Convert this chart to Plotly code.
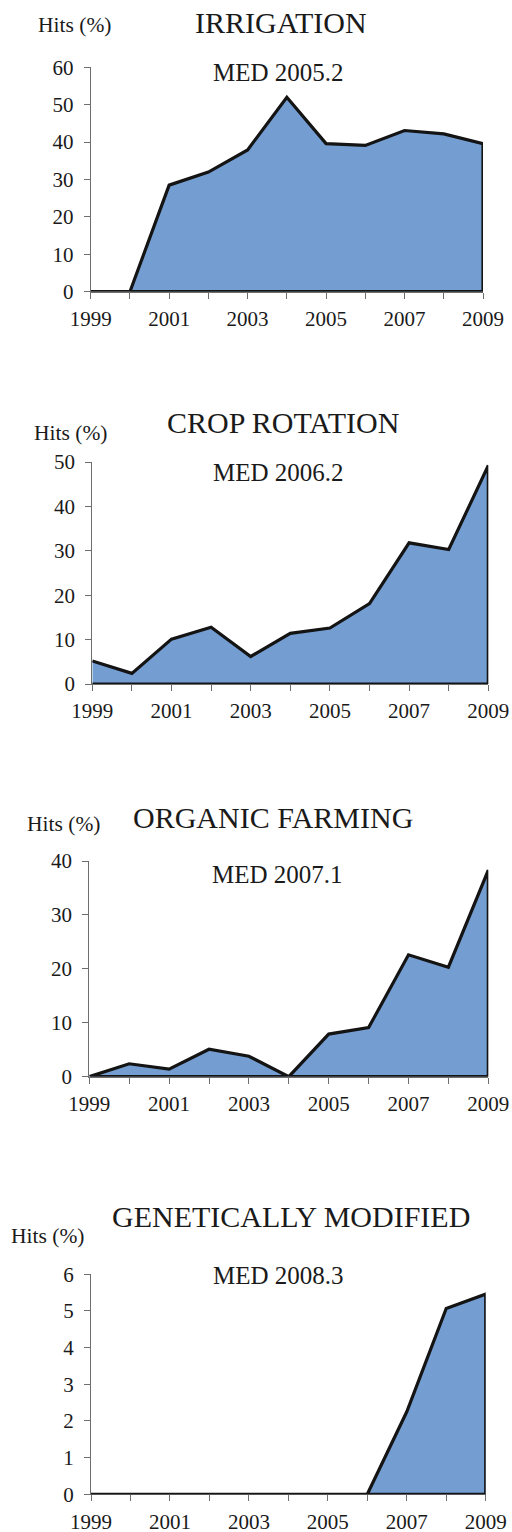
import plotly.graph_objects as go

W, H = 512, 1532

years = list(range(1999, 2010))
tick_labels = [str(y) if y % 2 == 1 else "" for y in years]

titles = ["IRRIGATION", "CROP ROTATION", "ORGANIC FARMING", "GENETICALLY MODIFIED"]
medians = ["MED 2005.2", "MED 2006.2", "MED 2007.1", "MED 2008.3"]

irrigation = [0, 0, 28.5, 32.0, 37.9, 52.0, 39.6, 39.1, 43.1, 42.2, 39.6]
crop_rotation = [5.2, 2.4, 10.1, 12.8, 6.2, 11.4, 12.6, 18.1, 31.8, 30.3, 49.2]
organic_farming = [0, 2.4, 1.4, 5.1, 3.8, 0, 7.9, 9.1, 22.6, 20.3, 38.3]
genetically_modified = [0, 0, 0, 0, 0, 0, 0, 0, 2.25, 5.07, 5.46]

series = [irrigation, crop_rotation, organic_farming, genetically_modified]
y_max = [60, 50, 40, 6]
y_dtick = [10, 10, 10, 1]

# layout geometry (reference pixels)
x_px = [(90.7, 483.0), (92.3, 488.3), (89.3, 488.3), (91.0, 485.7)]
y_px = [(67.3, 291.7), (462.0, 684.0), (861.0, 1076.7), (1274.3, 1494.3)]
title_pos = [(281, 22.7), (283, 422.5), (272.5, 818), (291, 1216.7)]
hits_pos = [(74.5, 25), (70.5, 432.5), (63.5, 824), (47.5, 1236)]
med_pos = [(278, 72), (278, 472.5), (277.5, 874), (278, 1275)]


def px(x):
    return x / W


def py(y):
    return 1 - y / H


FONT = "Liberation Serif, Times New Roman, serif"
TXT = "#1a1a1a"
FILL = "rgb(116,158,210)"
AX = "#6e6e6e"

fig = go.Figure()
annotations = []
for i, vals in enumerate(series):
    n = "" if i == 0 else str(i + 1)
    xs = years + [years[-1], years[0]]
    ys = vals + [0, 0]
    fig.add_trace(go.Scatter(
        x=xs, y=ys, mode="lines", fill="toself", fillcolor=FILL,
        line=dict(color="#141414", width=3.2), xaxis="x" + n, yaxis="y" + n,
        cliponaxis=False, showlegend=False, hoverinfo="skip"))
    xd = [px(x_px[i][0]), px(x_px[i][1])]
    yd = [py(y_px[i][1]), py(y_px[i][0])]
    fig.update_layout(**{
        "xaxis" + n: dict(domain=xd, range=[years[0], years[-1]], tickvals=years,
                          ticktext=tick_labels, ticks="outside", ticklen=6, tickcolor=AX,
                          showline=True, linecolor=AX, linewidth=1, showgrid=False,
                          zeroline=False, layer="below traces", anchor="y" + n,
                          automargin=False,
                          tickfont=dict(family=FONT, size=21, color=TXT),
                          ticklabelstandoff=2, fixedrange=True),
        "yaxis" + n: dict(domain=yd, range=[0, y_max[i]], dtick=y_dtick[i], tick0=0,
                          ticks="outside", ticklen=6, tickcolor=AX,
                          showline=True, linecolor=AX, linewidth=1, showgrid=False,
                          zeroline=False, anchor="x" + n, automargin=False,
                          tickfont=dict(family=FONT, size=21, color=TXT),
                          ticklabelstandoff=6, fixedrange=True),
    })
    annotations.append(dict(text=titles[i], x=px(title_pos[i][0]), y=py(title_pos[i][1]),
                            xref="paper", yref="paper", showarrow=False,
                            xanchor="center", yanchor="middle",
                            font=dict(family=FONT, size=30, color=TXT)))
    annotations.append(dict(text="Hits (%)", x=px(hits_pos[i][0]), y=py(hits_pos[i][1]),
                            xref="paper", yref="paper", showarrow=False,
                            xanchor="center", yanchor="middle",
                            font=dict(family=FONT, size=21.5, color=TXT)))
    annotations.append(dict(text=medians[i], x=px(med_pos[i][0]), y=py(med_pos[i][1]),
                            xref="paper", yref="paper", showarrow=False,
                            xanchor="center", yanchor="middle",
                            font=dict(family=FONT, size=25, color=TXT)))

fig.update_layout(width=W, height=H,
                  margin=dict(l=0, r=0, t=0, b=0, pad=0, autoexpand=False),
                  paper_bgcolor="white", plot_bgcolor="white",
                  annotations=annotations, showlegend=False, hovermode=False)

fig.write_html("out.html", config={"responsive": False, "displayModeBar": False,
                                   "staticPlot": True},
               post_script="document.documentElement.style.overflow='hidden';"
                           "document.body.style.margin='0';"
                           "document.body.style.overflow='hidden';")
